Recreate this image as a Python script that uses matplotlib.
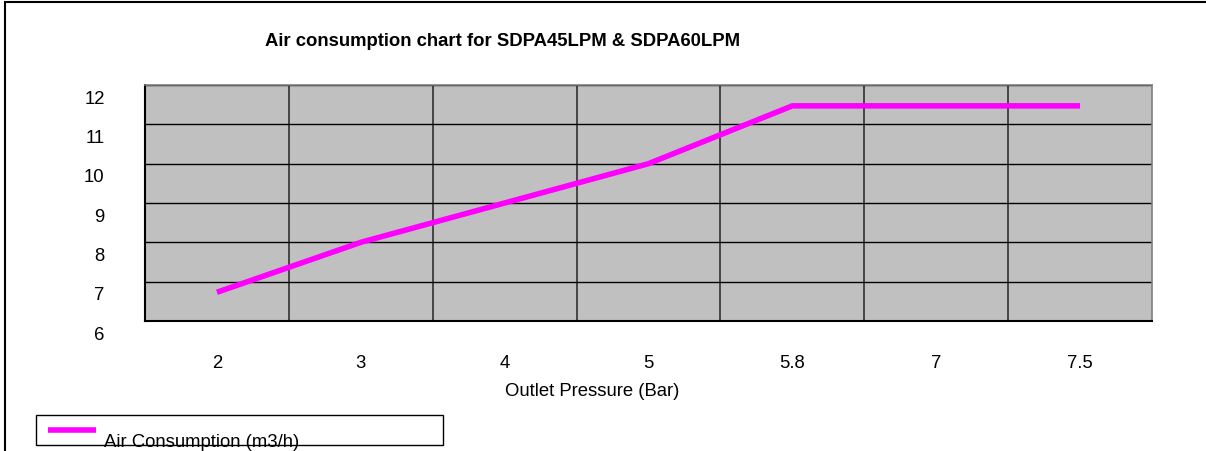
import matplotlib
matplotlib.use("Agg")
import matplotlib.pyplot as plt
import matplotlib.transforms as mtransforms
from matplotlib.patches import Rectangle
from matplotlib.lines import Line2D

# Data
pressure_labels = ["2", "3", "4", "5", "5.8", "7", "7.5"]
air_consumption = [6.73, 8.0, 9.0, 10.0, 11.47, 11.47, 11.47]
y_ticks = [6, 7, 8, 9, 10, 11, 12]

plt.rcParams["font.family"] = ["Liberation Sans", "DejaVu Sans"]
FS = 13.3

W, H = 1206, 452
fig = plt.figure(figsize=(W / 100, H / 100), dpi=100)

# outer frame of the chart
fig.patches.append(Rectangle((5 / W, -0.1), 1.2, 1.1 - 3 / H, transform=fig.transFigure,
                             fill=False, edgecolor="black", linewidth=1.5))

# Plot area in pixel coordinates
left, right, top, bottom = 145, 1152, 86, 322
ax = fig.add_axes([left / W, 1 - bottom / H, (right - left) / W, (bottom - top) / H])
ax.set_facecolor("#c0c0c0")

x = list(range(len(pressure_labels)))
ax.plot(x, air_consumption, color="#ff00ff", linewidth=4, solid_capstyle="butt", zorder=5)

ax.set_xlim(-0.5, len(pressure_labels) - 0.5)
ax.set_ylim(6, 12)
ax.set_xticks(x)
ax.set_xticklabels(pressure_labels)
ax.set_xticks([i + 0.5 for i in x[:-1]], minor=True)
ax.set_yticks(y_ticks)
ax.set_yticklabels([str(v) for v in y_ticks])

ax.grid(True, axis="y", which="major", color="black", linewidth=1)
ax.grid(True, axis="x", which="minor", color="#303030", linewidth=1.2)
ax.set_axisbelow(True)
ax.tick_params(axis="both", which="both", length=0, labelsize=FS)
ax.tick_params(axis="x", pad=23.5)
ax.tick_params(axis="y", pad=29)

# y labels sit a little below their gridlines
offset = mtransforms.ScaledTranslation(0, -11 / 100, fig.dpi_scale_trans)
for lab in ax.get_yticklabels():
    lab.set_transform(lab.get_transform() + offset)

for side in ["left", "bottom"]:
    ax.spines[side].set_color("black")
    ax.spines[side].set_linewidth(1.5)
for side in ["top", "right"]:
    ax.spines[side].set_color("#808080")
    ax.spines[side].set_linewidth(1.2)

fig.text(503 / W, 1 - 42 / H, "Air consumption chart for SDPA45LPM & SDPA60LPM",
         ha="center", va="center", fontsize=FS, fontweight="bold")
fig.text(592 / W, 1 - 392 / H, "Outlet Pressure (Bar)", ha="center", va="center", fontsize=FS)

# legend box
fig.patches.append(Rectangle((36 / W, 1 - 446 / H), (443 - 36) / W, 30 / H,
                             transform=fig.transFigure, fill=False,
                             edgecolor="black", linewidth=1))
fig.lines.append(Line2D([48 / W, 96 / W], [1 - 431 / H, 1 - 431 / H], transform=fig.transFigure,
                        color="#ff00ff", linewidth=4, solid_capstyle="butt"))
fig.text(104 / W, 1 - 443 / H, "Air Consumption (m3/h)", ha="left", va="center", fontsize=FS)

fig.savefig("out.png", dpi=100, facecolor="white")
